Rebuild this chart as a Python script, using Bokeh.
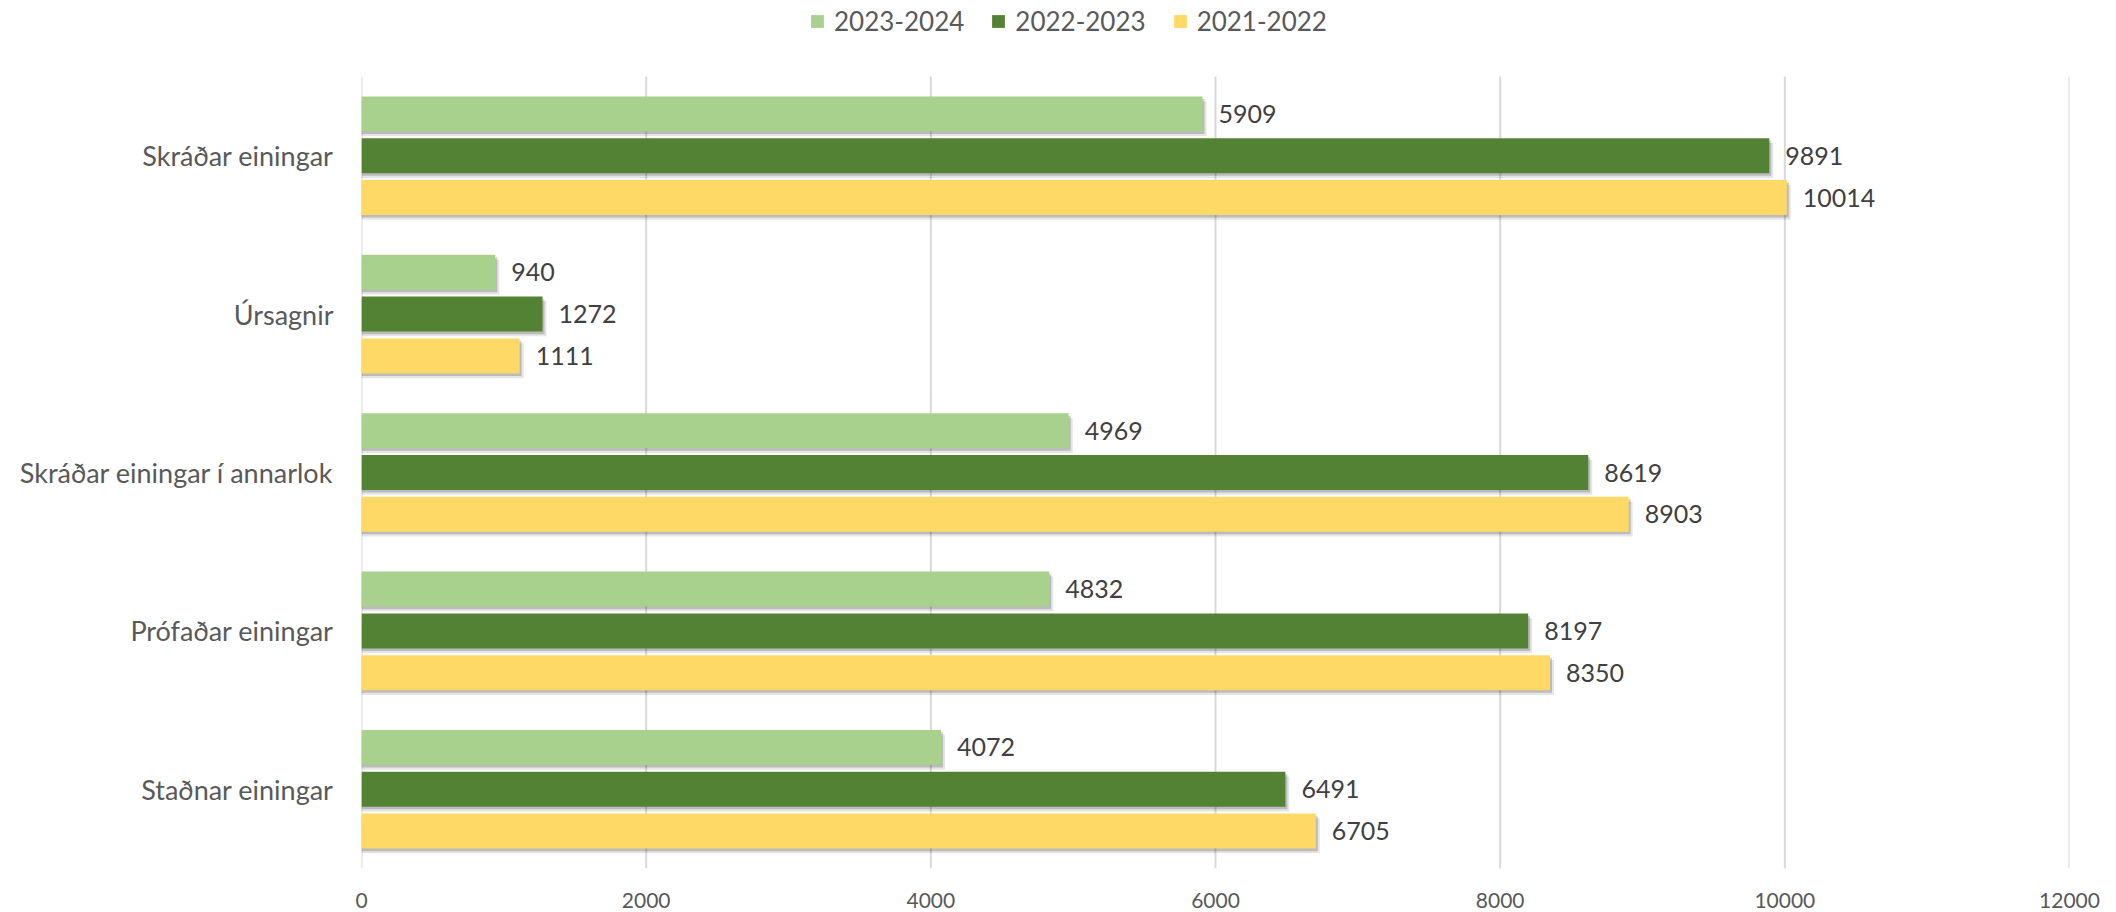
from bokeh.plotting import figure
from bokeh.models import Range1d, ColumnDataSource, Legend, LegendItem, FixedTicker
from bokeh.transform import dodge
from bokeh.core.properties import value
from bokeh.embed import file_html
from bokeh.resources import INLINE

# ---- data ----
categories = ["Skráðar einingar", "Úrsagnir", "Skráðar einingar í annarlok",
              "Prófaðar einingar", "Staðnar einingar"]
series_names = ["2023-2024", "2022-2023", "2021-2022"]
v_2023_2024 = [5909, 940, 4969, 4832, 4072]
v_2022_2023 = [9891, 1272, 8619, 8197, 6491]
v_2021_2022 = [10014, 1111, 8903, 8350, 6705]
x_ticks = [0, 2000, 4000, 6000, 8000, 10000, 12000]

# ---- style ----
colors = ["#A9D18E", "#548235", "#FFD966"]
offsets = [0.264, 0.0, -0.264]
bar_h = 0.221
top_pad = 0.48          # room above the categories for the legend
FONT = "Lato"

n = len(categories)
ypos = list(range(n))[::-1]          # first category at the top

p = figure(width=2116, height=912,
           y_range=Range1d(-0.5, n - 0.5 + top_pad),
           x_range=Range1d(x_ticks[0], x_ticks[-1]),
           output_backend="svg", toolbar_location=None,
           min_border_left=361, min_border_right=47,
           min_border_top=0, min_border_bottom=44)
p.outline_line_color = None
p.background_fill_color = "white"

# vertical gridlines limited to the category area
grid_src = ColumnDataSource(dict(x=x_ticks,
                                 y0=[-0.5] * len(x_ticks),
                                 y1=[n - 0.5] * len(x_ticks)))
p.segment(x0="x", y0="y0", x1="x", y1="y1", source=grid_src,
          line_color="#d9d9d9", line_width=2, level="underlay")

renderers = []
for name, vals, col, off in zip(series_names, [v_2023_2024, v_2022_2023, v_2021_2022], colors, offsets):
    src = ColumnDataSource(dict(y=ypos, val=vals,
                                sh1=[v + 14 for v in vals], sh2=[v + 28 for v in vals],
                                label=[str(v) for v in vals]))
    # soft drop shadow
    p.hbar(y=dodge("y", off - 0.03), left=0, right="sh2", height=bar_h, source=src,
           fill_color="black", fill_alpha=0.10, line_color=None)
    p.hbar(y=dodge("y", off - 0.016), left=0, right="sh1", height=bar_h, source=src,
           fill_color="black", fill_alpha=0.18, line_color=None)
    r = p.hbar(y=dodge("y", off), left=0, right="val", height=bar_h, source=src,
               fill_color=col, line_color=None)
    renderers.append(r)
    p.text(x="val", y=dodge("y", off), text="label", source=src,
           x_offset=16, text_baseline="middle", text_align="left",
           text_font=value(FONT), text_font_size="25px", text_color="#404040")

legend = Legend(items=[LegendItem(label=s, renderers=[r]) for s, r in zip(series_names, renderers)],
                orientation="horizontal", location=(448, 831),
                glyph_width=16, glyph_height=16, label_standoff=9, spacing=26,
                padding=0, margin=0, border_line_color=None, background_fill_alpha=0,
                label_text_font=FONT, label_text_font_size="26px", label_text_color="#595959")
p.add_layout(legend, "center")

p.xaxis.ticker = FixedTicker(ticks=x_ticks)
p.xaxis.axis_line_color = None
p.xaxis.major_tick_line_color = None
p.xaxis.minor_tick_line_color = None
p.xaxis.major_label_text_font = FONT
p.xaxis.major_label_text_font_size = "21px"
p.xaxis.major_label_text_color = "#595959"
p.xaxis.major_label_standoff = 18

p.yaxis.ticker = FixedTicker(ticks=ypos)
p.yaxis.major_label_overrides = {y: c for y, c in zip(ypos, categories)}
p.yaxis.axis_line_color = None
p.yaxis.major_tick_line_color = None
p.yaxis.minor_tick_line_color = None
p.yaxis.major_label_text_font = FONT
p.yaxis.major_label_text_font_size = "27px"
p.yaxis.major_label_text_color = "#595959"
p.yaxis.major_label_standoff = 22

p.xgrid.grid_line_color = None
p.ygrid.grid_line_color = None

open("out.html", "w").write(file_html(p, INLINE))
